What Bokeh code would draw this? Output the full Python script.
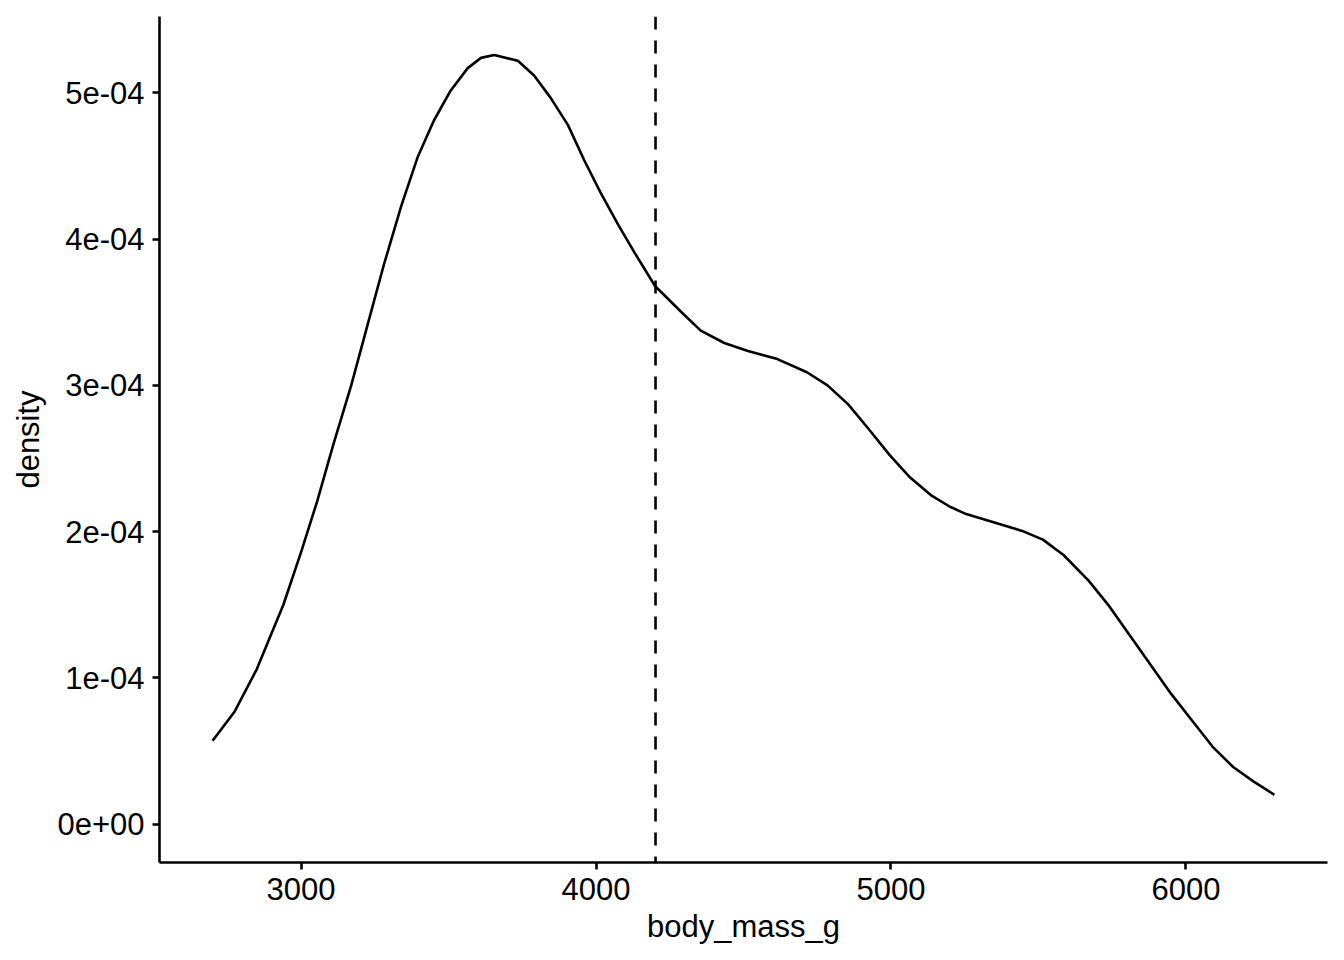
from bokeh.plotting import figure
from bokeh.models import Range1d, FixedTicker, CustomJSTickFormatter, Span
from bokeh.embed import file_html
from bokeh.resources import INLINE

# Data: kernel density of body_mass_g
body_mass_g = [2700, 2775, 2850, 2940, 3000, 3055, 3110, 3170, 3225, 3280,
               3340, 3395, 3450, 3505, 3565, 3610, 3655, 3735, 3790, 3845,
               3905, 3960, 4015, 4075, 4130, 4200, 4290, 4355, 4435, 4515,
               4615, 4715, 4785, 4855, 4925, 4995, 5065, 5135, 5200, 5255,
               5345, 5445, 5515, 5585, 5670, 5740, 5810, 5880, 5950, 6020,
               6090, 6160, 6230, 6300]
density_e4 = [0.57, 0.77, 1.06, 1.50, 1.86, 2.21, 2.60, 3.00, 3.41, 3.82,
              4.23, 4.56, 4.81, 5.01, 5.17, 5.24, 5.26, 5.22, 5.12, 4.97,
              4.78, 4.54, 4.32, 4.10, 3.91, 3.68, 3.50, 3.375, 3.29, 3.235,
              3.18, 3.09, 3.00, 2.87, 2.70, 2.525, 2.37, 2.25, 2.17, 2.12,
              2.065, 2.005, 1.945, 1.84, 1.665, 1.49, 1.29, 1.09, 0.89, 0.71,
              0.53, 0.39, 0.29, 0.20]
density = [v * 1e-4 for v in density_e4]
mean_body_mass = 4201.75

x_ticks = [3000, 4000, 5000, 6000]
y_ticks = [0.0, 1e-4, 2e-4, 3e-4, 4e-4, 5e-4]

p = figure(width=1344, height=960, output_backend="svg", toolbar_location=None,
           x_range=Range1d(2520, 6480), y_range=Range1d(-0.263e-4, 5.523e-4),
           min_border_left=159, min_border_right=17, min_border_top=16,
           min_border_bottom=98)

p.line(body_mass_g, density, line_color="black", line_width=2.6,
       line_join="round")

vline = Span(location=mean_body_mass, dimension="height", line_color="black",
             line_width=2.6, line_dash="13 11")
p.add_layout(vline)

p.xgrid.visible = False
p.ygrid.visible = False
p.outline_line_color = None
p.background_fill_color = "white"
p.border_fill_color = "white"

p.xaxis.ticker = FixedTicker(ticks=x_ticks)
p.yaxis.ticker = FixedTicker(ticks=y_ticks)
p.yaxis.formatter = CustomJSTickFormatter(code="""
const s = tick.toExponential(0);
const m = s.match(/^(-?\\d)e([+-])(\\d+)$/);
if (!m) return s;
return m[1] + "e" + m[2] + m[3].padStart(2, "0");
""")

for ax in (p.xaxis[0], p.yaxis[0]):
    ax.axis_line_color = "black"
    ax.axis_line_width = 2.6
    ax.major_tick_line_color = "black"
    ax.major_tick_line_width = 2.6
    ax.major_tick_out = 7
    ax.major_tick_in = 0
    ax.minor_tick_out = 0
    ax.minor_tick_in = 0
    ax.major_label_text_font = "Liberation Sans"
    ax.major_label_text_font_size = "31px"
    ax.major_label_text_color = "black"
    ax.axis_label_text_font = "Liberation Sans"
    ax.axis_label_text_font_size = "31px"
    ax.axis_label_text_font_style = "normal"
    ax.axis_label_text_color = "black"

p.xaxis.axis_label = "body_mass_g"
p.yaxis.axis_label = "density"
p.xaxis.major_label_standoff = 8
p.yaxis.major_label_standoff = 8
p.xaxis.axis_label_standoff = 6
p.yaxis.axis_label_standoff = 8

open("out.html", "w").write(file_html(p, INLINE))
